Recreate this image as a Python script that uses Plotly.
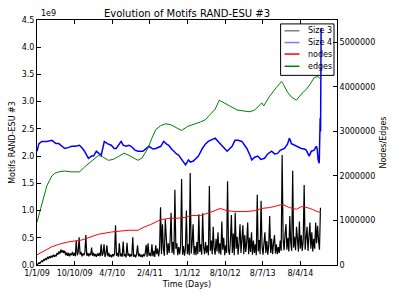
import numpy as np
import plotly.graph_objects as go

# ---------------- data ----------------
tick_days = [0, 275, 550, 825, 1100, 1375, 1650, 1925]
tick_labels = ["1/1/09", "10/10/09", "4/7/10", "2/4/11", "1/1/12", "8/10/12", "8/7/13", "8/4/14"]

# Size 3 motifs (units of 1e9), one value per week
size3_step_days = 7
size3 = [
    0.00, 0.02, 0.04, 0.03, 0.06, 0.08, 0.06, 0.10, 0.09, 0.12,
    0.10, 0.14, 0.12, 0.16, 0.13, 0.17, 0.14, 0.19, 0.15, 0.18,
    0.16, 0.22, 0.19, 0.25, 0.21, 0.28, 0.23, 0.27, 0.22, 0.26,
    0.18, 0.23, 0.17, 0.22, 0.16, 0.21, 0.18, 0.24, 0.17, 0.22,
    0.16, 0.45, 0.18, 0.23, 0.51, 0.19, 0.24, 0.16, 0.21, 0.18,
    0.23, 0.55, 0.17, 0.22, 0.16, 0.21, 0.18, 0.32, 0.17, 0.22,
    0.16, 0.20, 0.15, 0.21, 0.17, 0.22, 0.16, 0.38, 0.17, 0.21,
    0.38, 0.15, 0.20, 0.36, 0.16, 0.22, 0.15, 0.19, 0.14, 0.20,
    0.16, 0.21, 0.73, 0.17, 0.22, 0.15, 0.40, 0.16, 0.21, 0.15,
    0.43, 0.16, 0.20, 0.14, 0.41, 0.17, 0.21, 0.15, 0.20, 0.16,
    0.51, 0.15, 0.19, 0.14, 0.20, 0.36, 0.16, 0.21, 0.15, 0.19,
    0.14, 0.20, 0.16, 0.21, 0.37, 0.15, 0.40, 0.17, 0.22, 0.16,
    0.38, 0.16, 0.26, 0.15, 0.36, 0.20, 0.30, 0.16, 0.28, 1.06,
    0.20, 0.75, 0.30, 0.17, 0.84, 0.34, 0.19, 0.40, 0.22, 0.45,
    0.96, 0.22, 0.42, 0.19, 1.38, 0.30, 0.40, 0.18, 0.33, 0.20,
    0.36, 1.58, 0.19, 0.35, 0.17, 0.30, 1.00, 0.20, 0.38, 0.18,
    1.69, 0.21, 0.40, 0.75, 0.19, 0.35, 0.18, 0.42, 0.20, 0.93,
    0.24, 0.38, 0.19, 0.95, 0.33, 0.20, 0.42, 0.22, 0.36, 0.18,
    1.45, 0.26, 0.45, 0.20, 0.70, 0.30, 0.19, 0.48, 0.25, 0.60,
    0.21, 0.40, 0.19, 0.80, 0.28, 0.50, 0.18, 0.36, 0.22, 1.54,
    0.27, 0.19, 0.45, 0.92, 0.22, 0.58, 0.18, 0.96, 0.30, 0.52,
    0.19, 0.40, 0.75, 0.22, 0.48, 0.73, 0.20, 0.55, 0.24, 0.42,
    0.78, 0.20, 0.50, 0.24, 0.60, 0.19, 0.45, 0.22, 0.38, 0.18,
    1.29, 0.25, 0.46, 0.20, 1.18, 0.35, 0.19, 0.50, 0.60, 0.22,
    0.44, 0.19, 0.36, 0.90, 0.22, 0.48, 0.20, 0.40, 0.55, 0.21,
    0.38, 0.20, 0.33, 0.22, 0.45, 0.26, 2.02, 0.48, 0.27, 0.55,
    0.75, 0.28, 0.50, 0.25, 0.90, 0.40, 0.26, 1.73, 0.32, 0.52,
    0.27, 0.70, 0.42, 0.25, 0.80, 0.30, 0.55, 0.26, 0.45, 1.47,
    0.28, 0.50, 0.70, 0.26, 0.45, 0.78, 0.30, 0.60, 0.25, 0.48,
    0.30, 0.78, 0.40, 0.72, 0.45, 0.28, 1.05,
]

# Size 4 motifs (units of 1e9)
size4_days = [
    0, 14, 36, 72, 109, 138, 159, 181, 203, 232, 253, 282, 311, 333, 347, 376,
    398, 413, 434, 456, 470, 492, 514, 543, 564, 579, 601, 615, 630, 651, 673,
    688, 716, 738, 774, 796, 818, 847, 868, 905, 926, 948, 963, 984, 999, 1020,
    1035, 1064, 1086, 1107, 1122, 1143, 1165, 1180, 1209, 1230, 1252, 1281,
    1303, 1324, 1353, 1375, 1390, 1411, 1426, 1447, 1469, 1498, 1520, 1534,
    1556, 1570, 1592, 1614, 1636, 1664, 1686, 1715, 1737, 1759, 1780, 1809,
    1831, 1845, 1860, 1882, 1903, 1932, 1954, 1968, 1990, 2005, 2026, 2041,
    2048, 2055, 2063, 2066, 2070, 2073, 2077,
]
size4 = [
    2.09, 2.23, 2.27, 2.27, 2.29, 2.23, 2.23, 2.18, 2.14, 2.16, 2.18, 2.18,
    2.20, 2.14, 2.09, 1.96, 2.00, 2.00, 2.09, 2.04, 2.02, 2.27, 2.23, 2.20,
    2.14, 2.14, 2.22, 2.27, 2.20, 2.18, 2.20, 2.18, 2.11, 2.09, 2.09, 2.14,
    2.18, 2.13, 2.14, 2.18, 2.27, 2.22, 2.20, 2.13, 2.09, 2.04, 2.02, 1.93,
    1.84, 1.93, 1.89, 1.91, 1.96, 2.00, 2.14, 2.22, 2.27, 2.31, 2.33, 2.27,
    2.20, 2.13, 2.09, 2.14, 2.18, 2.29, 2.29, 2.27, 2.20, 2.14, 2.02, 1.93,
    1.98, 2.00, 1.94, 1.96, 2.04, 2.09, 2.04, 2.05, 2.11, 2.14, 2.22, 2.33,
    2.23, 2.20, 2.18, 2.14, 2.13, 2.11, 2.00, 2.09, 2.11, 2.18, 2.14, 1.93,
    1.87, 2.16, 2.70, 2.45, 4.35,
]

# nodes (millions)
nodes_days = [
    0, 51, 109, 166, 232, 326, 398, 449, 543, 615, 666, 738, 782, 832, 905,
    977, 1028, 1086, 1122, 1194, 1266, 1339, 1390, 1447, 1534, 1592, 1643,
    1701, 1795, 1845, 1896, 1932, 1976, 2012, 2048, 2077,
]
nodes = [
    0.23, 0.32, 0.41, 0.47, 0.52, 0.56, 0.63, 0.69, 0.74, 0.76, 0.78, 0.78,
    0.85, 0.91, 1.02, 1.05, 1.05, 1.07, 1.11, 1.11, 1.18, 1.27, 1.22, 1.20,
    1.20, 1.22, 1.27, 1.29, 1.36, 1.29, 1.25, 1.31, 1.29, 1.25, 1.20, 1.18,
]

# edges (millions)
edges_days = [
    0, 36, 72, 109, 130, 159, 203, 253, 311, 340, 398, 449, 485, 521, 557,
    601, 637, 673, 709, 738, 767, 811, 839, 868, 905, 941, 977, 1020, 1057,
    1100, 1143, 1194, 1230, 1266, 1303, 1332, 1368, 1411, 1462, 1505, 1556,
    1592, 1643, 1657, 1701, 1751, 1788, 1802, 1831, 1860, 1896, 1939, 1968,
    1997, 2026, 2055, 2077,
]
edges = [
    0.96, 1.40, 1.78, 2.00, 2.06, 2.09, 2.11, 2.09, 2.09, 2.18, 2.33, 2.46,
    2.42, 2.35, 2.37, 2.44, 2.51, 2.46, 2.40, 2.35, 2.40, 2.62, 2.84, 3.04,
    3.13, 3.17, 3.15, 3.08, 3.02, 3.11, 3.15, 3.21, 3.26, 3.37, 3.50, 3.70,
    3.64, 3.55, 3.48, 3.46, 3.44, 3.48, 3.64, 3.57, 3.79, 3.99, 4.12, 4.05,
    3.88, 3.77, 3.70, 3.86, 3.94, 4.06, 4.21, 4.23, 4.16,
]

left_ticks = [0.0, 0.5, 1.0, 1.5, 2.0, 2.5, 3.0, 3.5, 4.0, 4.5]
right_ticks = [0, 1, 2, 3, 4, 5]

legend_labels = ["Size 3", "Size 4", "nodes", "edges"]
legend_colors = ["#808080", "#7f7fff", "#ff0000", "#008000"]

# ---------------- figure ----------------
FONT = "DejaVu Sans"
size3_days = np.arange(len(size3)) * size3_step_days

fig = go.Figure()
fig.add_trace(go.Scatter(x=size3_days, y=np.array(size3) * 1e9, mode="lines",
                         line=dict(color="black", width=1.2), name="Size 3",
                         showlegend=False))
fig.add_trace(go.Scatter(x=size4_days, y=np.array(size4) * 1e9, mode="lines",
                         line=dict(color="#0000ff", width=1.5), name="Size 4",
                         showlegend=False))
fig.add_trace(go.Scatter(x=nodes_days, y=np.array(nodes) * 1e6, mode="lines",
                         line=dict(color="#ff0000", width=1), name="nodes",
                         yaxis="y2", showlegend=False))
fig.add_trace(go.Scatter(x=edges_days, y=np.array(edges) * 1e6, mode="lines",
                         line=dict(color="#008000", width=1), name="edges",
                         yaxis="y2", showlegend=False))

axis_common = dict(showgrid=False, zeroline=False, showline=True, linecolor="black",
                   linewidth=1, ticks="inside", ticklen=4, tickwidth=1,
                   tickcolor="black", tickfont=dict(family=FONT, size=8, color="black"))

fig.update_layout(
    width=399, height=299,
    margin=dict(l=35, r=61, t=20, b=31),
    paper_bgcolor="white", plot_bgcolor="white",
    font=dict(family=FONT, size=8, color="black"),
    showlegend=False,
    title=dict(text="Evolution of Motifs RAND-ESU #3", x=0.5, xref="paper",
               y=1 - 13 / 299, yref="container", yanchor="middle",
               font=dict(family=FONT, size=10, color="black")),
    xaxis=dict(range=[0, 2193], tickvals=tick_days, ticktext=tick_labels,
               mirror="ticks",
               title=dict(text="Time (Days)", font=dict(family=FONT, size=8), standoff=4),
               **axis_common),
    yaxis=dict(range=[0, 4.5e9], tickvals=[v * 1e9 for v in left_ticks],
               ticktext=[f"{v:.1f}" for v in left_ticks],
               title=dict(text="Motifs RAND-ESU #3", font=dict(family=FONT, size=8), standoff=4),
               **axis_common),
    yaxis2=dict(range=[0, 5.5e6], overlaying="y", side="right",
                tickvals=[v * 1e6 for v in right_ticks],
                ticktext=[str(int(v * 1e6)) for v in right_ticks],
                title=dict(text="Nodes/Edges", font=dict(family=FONT, size=8), standoff=6),
                **axis_common),
)

# "1e9" offset label
fig.add_annotation(text="1e9", xref="paper", yref="paper", x=0.005, y=1.0,
                   xanchor="left", yanchor="bottom", showarrow=False,
                   font=dict(family=FONT, size=8, color="black"))

# manual legend box (matplotlib style)
fig.add_shape(type="rect", xref="paper", yref="paper", x0=0.812, x1=0.990,
              y0=0.774, y1=0.984, line=dict(color="black", width=1),
              fillcolor="white", layer="below")
leg_y = [0.956, 0.908, 0.861, 0.811]
for lab, col, yy in zip(legend_labels, legend_colors, leg_y):
    fig.add_shape(type="line", xref="paper", yref="paper", x0=0.825, x1=0.875,
                  y0=yy, y1=yy, line=dict(color=col, width=1.5))
    fig.add_annotation(text=lab, xref="paper", yref="paper", x=0.895, y=yy,
                       xanchor="left", yanchor="middle", showarrow=False,
                       font=dict(family=FONT, size=8, color="black"))

fig.write_html("out.html", config={"displayModeBar": False},
               post_script="document.body.style.margin='0';")
